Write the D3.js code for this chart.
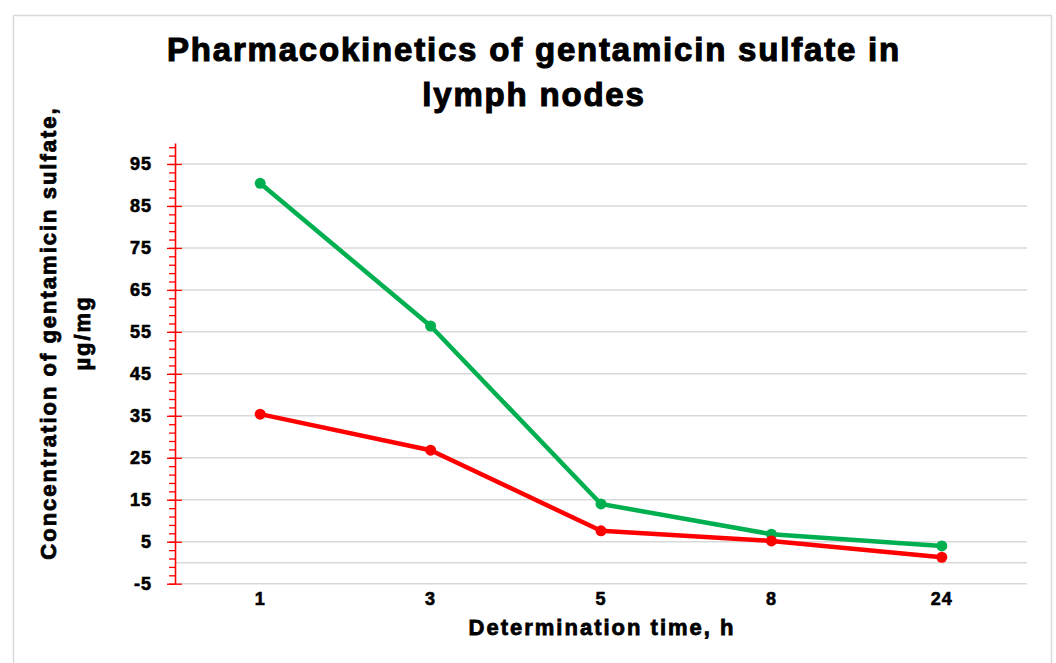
<!DOCTYPE html>
<html>
<head>
<meta charset="utf-8">
<script src="https://cdn.jsdelivr.net/npm/d3@7"></script>
<style>
  body { margin: 0; background: #fff; }
  text { font-family: "Liberation Sans", Arial, sans-serif; font-weight: bold; fill: #000; stroke: #000; }
</style>
</head>
<body>
<div id="viz"></div>
<script>
// data
var times = ["1", "3", "5", "8", "24"];
var greenValues = [90.4, 56.4, 14.0, 6.8, 4.0];
var redValues = [35.4, 26.8, 7.6, 5.2, 1.3];
var yTicks = [-5, 5, 15, 25, 35, 45, 55, 65, 75, 85, 95];
var gridValues = [-5, 0, 5, 15, 25, 35, 45, 55, 65, 75, 85, 95];

var W = 1056, H = 663;
var plotLeft = 175, plotRight = 1027, plotTop = 143, plotBottom = 583.7;

var svg = d3.select("#viz").append("svg")
    .attr("width", W)
    .attr("height", H);

// outer frame
svg.append("rect")
    .attr("x", 13.5).attr("y", 15.5)
    .attr("width", 1038).attr("height", 660)
    .attr("fill", "none").attr("stroke", "#d9d9d9").attr("stroke-width", 1.5);

var x = d3.scaleBand().domain(times).range([plotLeft, plotRight]);
var y = d3.scaleLinear().domain([-5, 100]).range([plotBottom, plotTop]);

// gridlines
svg.append("g").selectAll("line")
    .data(gridValues)
    .enter().append("line")
    .attr("x1", plotLeft).attr("x2", plotRight)
    .attr("y1", function(d) { return y(d); })
    .attr("y2", function(d) { return y(d); })
    .attr("stroke", "#d9d9d9").attr("stroke-width", 1.5);

function styleLabels(sel) {
    sel.attr("font-size", 18)
        .attr("font-family", "Liberation Sans, Arial, sans-serif")
        .attr("font-weight", "bold")
        .attr("fill", "#000")
        .attr("stroke", "#000")
        .attr("stroke-width", 0.6)
        .attr("letter-spacing", 1);
}

// red value axis: major ticks cross, minor ticks outside
var minor = d3.range(-5, 100, 2);
var axisG = svg.append("g").attr("transform", "translate(" + plotLeft + ",0)");
axisG.append("g")
    .call(d3.axisLeft(y).tickValues(minor).tickSize(6).tickFormat(""))
    .call(function(g) { g.select(".domain").remove(); })
    .selectAll("line").attr("stroke", "#ff0000").attr("stroke-width", 1.3);
axisG.append("g")
    .call(d3.axisLeft(y).tickValues(yTicks).tickSizeInner(-7).tickSizeOuter(0).tickPadding(23)
        .tickFormat(function(d) { return String(d); }))
    .call(function(g) {
        g.select(".domain").attr("stroke", "#ff0000").attr("stroke-width", 1.6);
        g.selectAll(".tick line").attr("stroke", "#ff0000").attr("stroke-width", 1.3)
            .attr("x1", -8);
        g.selectAll(".tick text").call(styleLabels);
    });

// category labels
svg.append("g").attr("transform", "translate(0," + plotBottom + ")")
    .call(d3.axisBottom(x).tickSize(0).tickPadding(9))
    .call(function(g) {
        g.select(".domain").remove();
        g.selectAll(".tick text").call(styleLabels);
    });

function cx(d, i) { return x(times[i]) + x.bandwidth() / 2; }

var series = [
    {values: greenValues, color: "#00b050"},
    {values: redValues, color: "#ff0000"}
];
series.forEach(function(s) {
    var line = d3.line().x(cx).y(function(d) { return y(d); });
    svg.append("path")
        .datum(s.values)
        .attr("d", line)
        .attr("fill", "none")
        .attr("stroke", s.color)
        .attr("stroke-width", 4.5)
        .attr("stroke-linejoin", "round");
    svg.append("g").selectAll("circle")
        .data(s.values)
        .enter().append("circle")
        .attr("cx", cx)
        .attr("cy", function(d) { return y(d); })
        .attr("r", 5.5)
        .attr("fill", s.color);
});

// titles
svg.append("text")
    .attr("x", 534).attr("y", 61)
    .attr("text-anchor", "middle")
    .attr("font-size", 33)
    .attr("letter-spacing", 1.8)
    .attr("stroke-width", 1.1)
    .text("Pharmacokinetics of gentamicin sulfate in");
svg.append("text")
    .attr("x", 534).attr("y", 106)
    .attr("text-anchor", "middle")
    .attr("font-size", 33)
    .attr("letter-spacing", 1.8)
    .attr("stroke-width", 1.1)
    .text("lymph nodes");

svg.append("text")
    .attr("x", 602).attr("y", 635)
    .attr("text-anchor", "middle")
    .attr("font-size", 22)
    .attr("letter-spacing", 2)
    .attr("stroke-width", 0.8)
    .text("Determination time, h");

var yt = svg.append("text")
    .attr("transform", "translate(56,333) rotate(-90)")
    .attr("text-anchor", "middle")
    .attr("font-size", 22)
    .attr("letter-spacing", 2)
    .attr("stroke-width", 0.8);
yt.append("tspan").attr("x", 0).attr("dy", 0).text("Concentration of gentamicin sulfate,");
yt.append("tspan").attr("x", 0).attr("dy", 34).text("µg/mg");
</script>
</body>
</html>
